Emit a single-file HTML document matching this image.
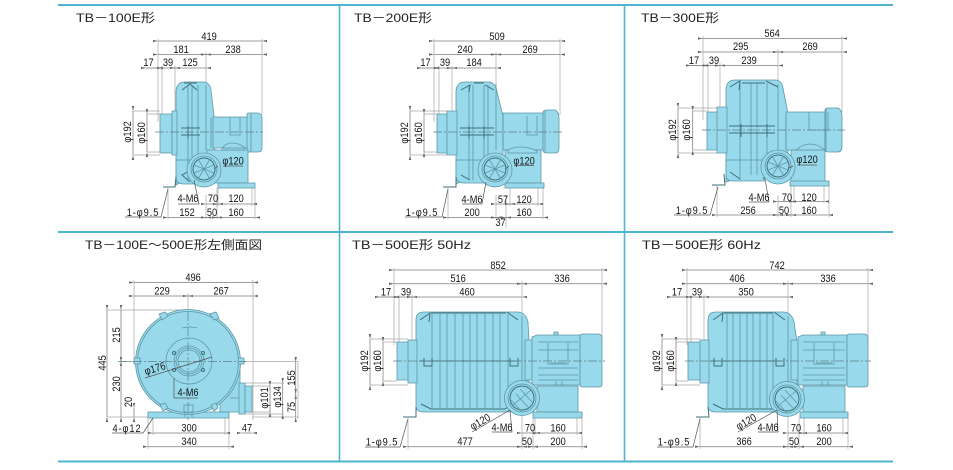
<!DOCTYPE html>
<html><head><meta charset="utf-8"><style>
html,body{margin:0;padding:0;background:#fff}
svg{display:block;filter:blur(.3px)}
.g{stroke:#50b4ce;stroke-width:2;fill:none}
.d{stroke:#7c7c7c;stroke-width:.75;fill:none;marker-start:url(#a);marker-end:url(#a)}
.e{stroke:#a8a8a8;stroke-width:.7;fill:none}
.l{stroke:#555;stroke-width:.7;fill:none}
.f{fill:#98daeb;stroke:#5d97a6;stroke-width:.8}
.i{fill:none;stroke:#5d97a6;stroke-width:.8}
.k{fill:none;stroke:#3e6d7a;stroke-width:1}
.c{stroke:#5c7f8a;stroke-width:.7;stroke-dasharray:9 2 2 2;fill:none}
text{font-family:"Liberation Sans","Noto Sans CJK JP",sans-serif;font-size:11px;fill:#151515;text-anchor:middle;transform-box:fill-box;transform-origin:center;transform:scaleX(.84)}
text.t{font-size:12px;text-anchor:start;transform:none;fill:#222}
text.n{letter-spacing:1.100px}
</style></head><body>
<svg width="953" height="470" viewBox="0 0 953 470" xmlns="http://www.w3.org/2000/svg">
<defs>
<marker id="a" viewBox="0 0 6 4" refX="0" refY="2" markerWidth="5" markerHeight="3.4" markerUnits="userSpaceOnUse" orient="auto-start-reverse"><path d="M0 2L6 0.6V3.4Z" fill="#666"/></marker>
</defs>
<path class="g" d="M58 5H893M58 232H893M58 461.500H893"/>
<path class="g" style="stroke-width:1.600" d="M339.500 5V461.500M624.500 5V461.500"/>

<!-- PANEL 1 -->
<text class="t" x="76" y="22" textLength="79" lengthAdjust="spacingAndGlyphs">TB－100E形</text>
<path class="e" d="M158 39V122M262 39V115M206 52V90M162 66V145M175 66V112M143 68H158M133 111H160M133 155H160M147 114H160M147 152H160M168 188V219M206 195V219M217 188V219M255 188V219M218 188V206M252 188V206"/>
<path class="f" d="M176 92Q176 82 185 82H204Q210 83 211 90L214 116L215 160L176 185Z"/>
<path class="f" d="M160 114H172V153H160Z"/><path class="f" d="M172 111H177V155H172Z"/><path class="f" d="M176 160H205V184H184Q176 184 176 178Z"/>
<path class="f" d="M213 117H248V148H213Z"/><path class="f" d="M247 114Q247 113 249 113H258Q262 114 262 118V148Q262 152 258 152H249Q247 152 247 151Z"/>
<path class="f" d="M207 150H248V183H207Z"/><path class="f" d="M218 183H255V188H218Z"/>
<path class="f" d="M222 148Q226 143 232 143Q240 143 245 148V150H222Z"/>
<path class="i" d="M188 85V181M192 85V172M198 85V160M206 85V150M211 118V148M240 117V135H230V117M251 113V152M222 148H248"/>
<path class="k" d="M182 90L190 84L197 90M184 83H197M181 128H200M181 135H200M188 126V139M191 170L182 175L190 182"/>
<circle class="f" cx="204" cy="170" r="17"/><circle class="i" cx="204" cy="169" r="13"/><circle class="k" cx="204" cy="169" r="11"/><path class="i" d="M194 165L214 173M194 173L214 165M198 159L210 179M210 159L198 179"/>
<path class="k" d="M163 187H175L176 177"/>
<path class="c" d="M155 132H263"/>
<path class="d" d="M158 41H262"/><path class="d" d="M158 54.500H206"/><path class="d" d="M206 54.500H262"/>
<path class="d" d="M146 68H158"/><path class="d" d="M162 68H175"/><path class="d" d="M175 68H206"/>
<path class="d" d="M133 111V155"/><path class="d" d="M147 114V152"/>
<path class="d" d="M206 204H218"/><path class="d" d="M218 204H252"/>
<path class="d" d="M168 217.500H206"/><path class="d" d="M206 217.500H217"/><path class="d" d="M217 217.500H255"/>
<path class="l" d="M178 204H199L194 180M125 217H161L168 189M223 166H243M218 166L214 169"/>
<text x="209" y="40">419</text><text x="181" y="53">181</text><text x="233" y="53">238</text><text x="148.500" y="66">17</text><text x="168" y="66">39</text><text x="190" y="66">125</text>
<g transform="rotate(-90 131 132)"><text x="131" y="132">φ192</text></g><g transform="rotate(-90 145 133)"><text x="145" y="133">φ160</text></g>
<text x="233" y="164.500">φ120</text><text x="188" y="202">4-M6</text><text x="213" y="202">70</text><text x="236" y="202">120</text>
<text x="187" y="216">152</text><text x="212" y="216">50</text><text x="236" y="216">160</text><text class="n" x="143" y="216">1-φ9.5</text>

<!-- PANEL 2 -->
<text class="t" x="354" y="22" textLength="78" lengthAdjust="spacingAndGlyphs">TB－200E形</text>
<path class="e" d="M434 39V122M560 39V115M496 52V90M439 66V145M452 66V112M419 68H434M410 111H447M410 155H447M424 114H437M424 152H437M448 188V219M496 195V219M506 195V228M510 188V206M538 188V206M543 188V219"/>
<path class="f" d="M456 92Q456 82 465 82H490Q496 84 497 92L503 116V160L456 184Z"/>
<path class="f" d="M437 114H447V153H437Z"/><path class="f" d="M447 111H457V155H447Z"/><path class="f" d="M456 160H492V183H464Q456 183 456 176Z"/>
<path class="f" d="M503 113H543V150H503Z"/><path class="f" d="M543 113Q543 110 547 110H555Q559 112 559 118V148Q559 153 555 153H547Q543 153 543 150Z"/>
<path class="f" d="M505 150H541V183H505Z"/><path class="f" d="M505 183H544V188H505Z"/>
<path class="f" d="M508 150Q514 147 520 147Q530 147 537 151V153H508Z"/>
<path class="i" d="M469 85V180M473 85V180M484 85V160M488 85V155M496 84V150M503 116V150M527 116V135H537V116M545 110V153"/>
<path class="k" d="M461 90L470 85L469 92M474 83H484M485 85L494 90M460 128H494M460 135H494M469 126V139M484 126V139M461 175L470 180M492 175L484 181"/>
<circle class="f" cx="495" cy="170" r="17"/><circle class="i" cx="495" cy="169" r="13"/><circle class="k" cx="495" cy="169" r="11"/><path class="i" d="M485 165L505 173M485 173L505 165M489 159L501 179M501 159L489 179"/>
<path class="k" d="M443 187H456V177"/>
<path class="c" d="M433 132H563"/>
<path class="d" d="M434 41H560"/><path class="d" d="M434 54.500H496"/><path class="d" d="M496 54.500H560"/>
<path class="d" d="M422 68H434"/><path class="d" d="M439 68H452"/><path class="d" d="M452 68H496"/>
<path class="d" d="M410 111V155"/><path class="d" d="M424 114V152"/>
<path class="d" d="M496 204H510"/><path class="d" d="M510 204H538"/>
<path class="d" d="M448 217.500H496"/><path class="d" d="M496 217.500H506"/><path class="d" d="M506 217.500H543"/>
<path class="l" d="M462 204H482L486 182M405 217H442L448 189M514 165.500H534M509 166L505 169"/>
<text x="497" y="40">509</text><text x="465" y="53">240</text><text x="530" y="53">269</text><text x="425.500" y="66">17</text><text x="445" y="66">39</text><text x="474" y="66">184</text>
<g transform="rotate(-90 408 133)"><text x="408" y="133">φ192</text></g><g transform="rotate(-90 422 133)"><text x="422" y="133">φ160</text></g>
<text x="524" y="164.500">φ120</text><text x="472" y="203">4-M6</text><text x="503" y="203">57</text><text x="524" y="203">120</text>
<text x="472" y="216">200</text><text x="524" y="216">160</text><text x="500.500" y="226">37</text><text class="n" x="422" y="216">1-φ9.5</text>

<!-- PANEL 3 -->
<text class="t" x="641" y="22" textLength="78" lengthAdjust="spacingAndGlyphs">TB－300E形</text>
<path class="e" d="M703 36V120M842 36V112M778 49V90M708 63V135M720 63V108M688 65.500H703M678 108H717M678 153H717M692.700 111H707M692.700 150H707M717 186V217M778 195V217M791 186V217M829 186V217M794 186V203M824 186V203"/>
<path class="f" d="M726 90Q726 80 735 80H776Q782 81 783 88L788 114V160L726 182Z"/>
<path class="f" d="M707 112H718V150H707Z"/><path class="f" d="M717 107H727V153H717Z"/><path class="f" d="M726 160H765V181H733Q726 181 726 175Z"/>
<path class="f" d="M786 112H825V150H786Z"/><path class="f" d="M825 110Q825 108 829 108H838Q842 110 842 116V146Q842 152 838 152H829Q825 152 825 150Z"/>
<path class="f" d="M791 150H825V182H791Z"/><path class="f" d="M790 181H829V186H790Z"/>
<path class="f" d="M796 150Q803 144 810 144Q818 144 825 150Z"/>
<path class="i" d="M740 83V180M751 83V175M757 83V175M767 83V170M778 84V150M786 114V150M809 112V130H828V112M826 108V152"/>
<path class="k" d="M730 87L740 81L739 90M742 83H765M766 81L778 87M729 126H775M729 133H775M741 124V137M767 124V137M730 172L740 179M763 179L770 172"/>
<circle class="f" cx="778" cy="167" r="17"/><circle class="i" cx="778" cy="166" r="13"/><circle class="k" cx="778" cy="166" r="11"/><path class="i" d="M768 162L788 170M768 170L788 162M772 156L784 176M784 156L772 176"/>
<path class="k" d="M712 185H725L724 174"/>
<path class="c" d="M702 130H845"/>
<path class="d" d="M703 38.500H842"/><path class="d" d="M703 52H778"/><path class="d" d="M778 52H842"/>
<path class="d" d="M691 65.500H703"/><path class="d" d="M708 65.500H720"/><path class="d" d="M720 65.500H778"/>
<path class="d" d="M678 108V153"/><path class="d" d="M692.700 111V150"/>
<path class="d" d="M778 201.500H791"/><path class="d" d="M794 201.500H824"/>
<path class="d" d="M717 215H778"/><path class="d" d="M778 215H791"/><path class="d" d="M791 215H828"/>
<path class="l" d="M749 202H769L765 179M674 215H710L718 187M797 165H817M793 166L789 168"/>
<text x="772" y="37">564</text><text x="740.700" y="50">295</text><text x="810" y="50">269</text><text x="694" y="64">17</text><text x="714" y="64">39</text><text x="749" y="64">239</text>
<g transform="rotate(-90 676 130)"><text x="676" y="130">φ192</text></g><g transform="rotate(-90 690 130)"><text x="690" y="130">φ160</text></g>
<text x="807" y="163">φ120</text><text x="759" y="201">4-M6</text><text x="787" y="201">70</text><text x="809" y="201">120</text>
<text x="748" y="214">256</text><text x="784" y="214">50</text><text x="809" y="214">160</text><text class="n" x="692" y="214">1-φ9.5</text>

<!-- PANEL 4 -->
<text class="t" x="85" y="249" textLength="177" lengthAdjust="spacingAndGlyphs">TB－100E～500E形左側面図</text>
<path class="e" d="M134 280V362M253 280V420M188 293V312M107 310H188M107 417H148M121 361.500H298M298 361V419M245 383H284M252 386H271M245 412H271M245 414H284M252 417H298M153 417V435M225 417V435M148 417V449M229 417V449"/>
<path class="f" d="M148 412H229V418H148Z"/>
<path class="f" d="M220 370H240V412H220Z"/><path class="f" d="M239 383H245V414H239Z"/><path class="f" d="M245 386H252V412H245Z"/>
<circle class="f" cx="188" cy="362" r="52.500"/><circle class="i" cx="188" cy="362" r="50.500"/>
<circle class="i" cx="189" cy="361" r="23"/><circle class="i" cx="189" cy="361" r="15"/><circle class="i" cx="189" cy="361" r="13"/><circle class="i" cx="189" cy="361" r="11"/>
<path class="f" d="M184 405H193V412H184Z"/><path class="i" d="M185 412V417M192 412V417M239 398H230M182 328Q190 326 197 328"/>
<path class="f" d="M159 314L165 312L168 316L162 320Z"/><path class="f" d="M210 314L216 312L219 318L214 320Z"/><path class="f" d="M134 358H140V364H134Z"/><path class="f" d="M238 358H244V364H238Z"/><path class="f" d="M160 405L165 403L168 408L163 411Z"/><path class="f" d="M211 405L216 403L218 408L214 411Z"/>
<circle class="k" cx="174" cy="353" r="1.500"/><circle class="k" cx="203" cy="353" r="1.500"/><circle class="k" cx="174" cy="370" r="1.500"/><circle class="k" cx="203" cy="370" r="1.500"/>
<path class="c" d="M118 361.500H246M188 312V420"/>
<path class="d" d="M134 282.500H253"/><path class="d" d="M134 296H188"/><path class="d" d="M188 296H253"/>
<path class="d" d="M107 310V417"/><path class="d" d="M121 310V361"/><path class="d" d="M121 362V417"/>
<path class="d" d="M295.700 362V394"/><path class="d" d="M295.700 394V417"/><path class="d" d="M282.700 383V414"/><path class="d" d="M270 386V412"/>
<path class="d" d="M134 408V417"/><path class="d" d="M153 433H225"/><path class="d" d="M148 446.700H229"/><path class="d" d="M242 433H252"/>
<path class="l" d="M145 378L212 357M174 378V398H198M112 433H143L153 418"/>
<text x="193" y="281">496</text><text x="162" y="294.500">229</text><text x="221" y="294.500">267</text>
<g transform="rotate(-90 106 363)"><text x="106" y="363">445</text></g><g transform="rotate(-90 120 335)"><text x="120" y="335">215</text></g><g transform="rotate(-90 120 384)"><text x="120" y="384">230</text></g><g transform="rotate(-90 132 402)"><text x="132" y="402">20</text></g>
<g transform="rotate(-90 295 378)"><text x="295" y="378">155</text></g><g transform="rotate(-90 295 407)"><text x="295" y="407">75</text></g><g transform="rotate(-90 281 397)"><text x="281" y="397">φ134</text></g><g transform="rotate(-90 268 398)"><text x="268" y="398">φ101</text></g>
<g transform="rotate(-17 156 372)"><text x="156" y="372">φ176</text></g><text x="188" y="396">4-M6</text>
<text x="189" y="431.500">300</text><text x="189" y="445">340</text><text x="247" y="431.500">47</text><text class="n" x="127" y="432">4-φ12</text>

<!-- PANEL 5 -->
<text class="t" x="352" y="249" textLength="119" lengthAdjust="spacingAndGlyphs">TB－500E形 50Hz</text>
<path class="e" d="M394 268V345M602 268V340M522 281V320M399 295V365M412 295V340M377 297H394M370 339H408M370 385H408M383 342H397M383 381H397M408 418V449M522 415V449M533 418V449M582 418V449M535 418V435M577 418V435"/>
<path class="f" d="M416 320Q416 312 424 312H518Q526 313 528 322L529 342V392L510 412H424Q416 412 416 406Z"/>
<path class="f" d="M397 342H409V380H397Z"/><path class="f" d="M408 340H417V383H408Z"/>
<path class="f" d="M525 340H536V380H525Z"/>
<path class="f" d="M532 337L537 335H580V385H532Z"/><path class="f" d="M580 336Q580 334 583 334H599Q602 335 602 338V384Q602 387 599 387H583Q580 387 580 385Z"/>
<path class="f" d="M537 386H578V412H537Z"/><path class="f" d="M533 412H582V418H533Z"/>
<path class="f" d="M554 332H558V335H554Z"/>
<path class="i" d="M432 314V408M440 314V408M447 314V408M455 314V408M463 314V408M470 314V408M477 314V408M485 314V408M493 314V408M500 314V408M508 314V395M522 316V392M538 342H578M538 350H578M538 368H578M538 375H578M538 380H578M548 343V364H568V343M550 363H566M556 381V386M562 381V386"/>
<path class="k" d="M420 320L430 313L429 322M431 313H506M507 312L518 320M419 361H516M424 358V366H432V358M510 358V366H518V358M421 404L431 409H505L515 402"/>
<circle class="f" cx="522" cy="398" r="17.500"/><circle class="i" cx="522" cy="398" r="14"/><circle class="k" cx="522" cy="398" r="12"/><path class="i" d="M513 405L531 390M516 394L528 407M520 389L532 402M511 400L522 412"/>
<path class="k" d="M403 417H416V407"/>
<path class="c" d="M393 361H605"/>
<path class="d" d="M394 270H602"/><path class="d" d="M394 283.700H522"/><path class="d" d="M522 283.700H602"/>
<path class="d" d="M380 297H394"/><path class="d" d="M399 297H412"/><path class="d" d="M412 297H522"/>
<path class="d" d="M370 339V385"/><path class="d" d="M383 342V381"/>
<path class="d" d="M522 433H535"/><path class="d" d="M538 433H577"/>
<path class="d" d="M408 446.700H522"/><path class="d" d="M522 446.700H533"/><path class="d" d="M533 446.700H582"/>
<path class="l" d="M472 432L510 410M492 432H512L510 410M365 447H400L408 419"/>
<text x="498" y="269">852</text><text x="458" y="282">516</text><text x="562" y="282">336</text><text x="386" y="295.500">17</text><text x="406" y="295.500">39</text><text x="467" y="295.500">460</text>
<g transform="rotate(-90 368 361)"><text x="368" y="361">φ192</text></g><g transform="rotate(-90 381 361)"><text x="381" y="361">φ160</text></g>
<g transform="rotate(-30 482 425)"><text x="482" y="425">φ120</text></g><text x="502" y="431">4-M6</text><text x="530" y="431.500">70</text><text x="558" y="431.500">160</text>
<text x="465" y="445">477</text><text x="527" y="445">50</text><text x="558" y="445">200</text><text class="n" x="382" y="445.500">1-φ9.5</text>

<!-- PANEL 6 -->
<text class="t" x="642" y="249" textLength="119" lengthAdjust="spacingAndGlyphs">TB－500E形 60Hz</text>
<path class="e" d="M687 268V345M868 268V340M788 281V320M691 295V365M704 295V340M669 297H687M662 339H700M662 385H700M676 342H688M676 381H688M700 418V449M788 415V449M799 418V449M848 418V449M804 418V435M843 418V435"/>
<path class="f" d="M708 320Q708 312 716 312H784Q792 313 794 322L797 342V392L776 412H716Q708 412 708 406Z"/>
<path class="f" d="M688 342H701V380H688Z"/><path class="f" d="M700 340H709V383H700Z"/>
<path class="f" d="M791 340H802V380H791Z"/>
<path class="f" d="M798 337L803 335H847V385H798Z"/><path class="f" d="M847 336Q847 334 850 334H865Q868 335 868 338V384Q868 387 865 387H850Q847 387 847 385Z"/>
<path class="f" d="M803 386H845V412H803Z"/><path class="f" d="M800 412H848V418H800Z"/>
<path class="f" d="M821 332H825V335H821Z"/>
<path class="i" d="M727 314V408M733 314V408M740 314V408M747 314V408M753 314V408M760 314V408M767 314V408M773 314V400M788 316V392M803 342H845M803 350H845M803 368H845M803 375H845M803 380H845M814 343V364H834V343M816 363H832M822 381V386M828 381V386"/>
<path class="k" d="M713 320L723 313L722 322M724 313H773M774 312L785 320M710 361H782M714 358V366H722V358M776 358V366H784V358M713 404L723 409H772L782 402"/>
<circle class="f" cx="787" cy="399" r="17.500"/><circle class="i" cx="787" cy="399" r="14"/><circle class="k" cx="787" cy="399" r="12"/><path class="i" d="M778 406L796 391M781 395L793 408M785 390L797 403M776 401L787 413"/>
<path class="k" d="M696 417H709L708 407"/>
<path class="c" d="M685 361H871"/>
<path class="d" d="M687 270H868"/><path class="d" d="M687 283.700H788"/><path class="d" d="M788 283.700H868"/>
<path class="d" d="M672 297H687"/><path class="d" d="M691 297H704"/><path class="d" d="M704 297H788"/>
<path class="d" d="M662 339V385"/><path class="d" d="M676 342V381"/>
<path class="d" d="M788 433H802"/><path class="d" d="M804 433H843"/>
<path class="d" d="M700 446.700H788"/><path class="d" d="M788 446.700H799"/><path class="d" d="M799 446.700H848"/>
<path class="l" d="M738 432L777 410M758 432H778L777 410M657 447H693L700 419"/>
<text x="777" y="269">742</text><text x="737" y="282">406</text><text x="828" y="282">336</text><text x="677" y="295.500">17</text><text x="697" y="295.500">39</text><text x="746" y="295.500">350</text>
<g transform="rotate(-90 660 361)"><text x="660" y="361">φ192</text></g><g transform="rotate(-90 674 361)"><text x="674" y="361">φ160</text></g>
<g transform="rotate(-30 748 425)"><text x="748" y="425">φ120</text></g><text x="768" y="431">4-M6</text><text x="796" y="431.500">70</text><text x="824" y="431.500">160</text>
<text x="744" y="445">366</text><text x="794" y="445">50</text><text x="824" y="445">200</text><text class="n" x="674" y="445.500">1-φ9.5</text>
</svg>
</body></html>
